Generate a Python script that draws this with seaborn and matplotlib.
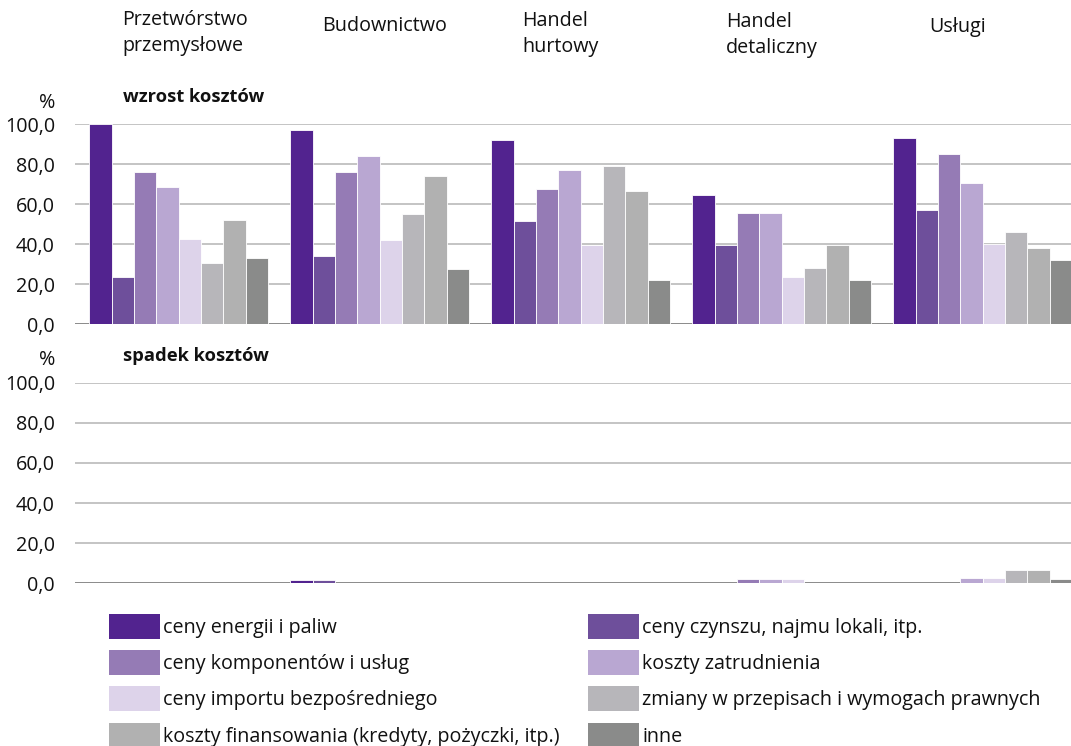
"""Przyczyny wzrostu i spadku kosztow wg sekcji - odtworzenie wykresu."""

import matplotlib

matplotlib.use("Agg")
import matplotlib.pyplot as plt
import pandas as pd
import seaborn as sns
from matplotlib.patches import Patch
from matplotlib.ticker import FuncFormatter

sectors = ["Przetwórstwo\nprzemysłowe", "Budownictwo", "Handel\nhurtowy", "Handel\ndetaliczny", "Usługi"]
causes = [
    "ceny energii i paliw",
    "ceny czynszu, najmu lokali, itp.",
    "ceny komponentów i usług",
    "koszty zatrudnienia",
    "ceny importu bezpośredniego",
    "zmiany w przepisach i wymogach prawnych",
    "koszty finansowania (kredyty, pożyczki, itp.)",
    "inne",
]
colors = ["#52238f", "#6e4f9b", "#957bb5", "#b9a7d2", "#ddd3ea", "#b7b6ba", "#b1b1b1", "#8a8b8a"]

# wzrost kosztow, % (rows = sectors, columns = causes)
increase = [
    [99.8, 23.5, 75.8, 68.5, 42.5, 30.7, 51.9, 32.9],
    [97.0, 33.8, 76.0, 84.0, 42.2, 55.2, 74.0, 27.5],
    [92.0, 51.5, 67.3, 77.0, 39.7, 79.0, 66.3, 21.8],
    [64.7, 39.7, 55.3, 55.3, 23.7, 28.2, 39.3, 22.0],
    [93.2, 57.2, 85.0, 70.7, 40.0, 46.2, 37.8, 32.2],
]
# spadek kosztow, %
decrease = [
    [0.0, 0.0, 0.0, 0.0, 0.0, 0.0, 0.0, 0.0],
    [1.6, 1.6, 0.0, 0.0, 0.0, 0.0, 0.0, 0.0],
    [0.0, 0.0, 0.0, 0.0, 0.0, 0.0, 0.0, 0.0],
    [0.0, 0.0, 2.2, 1.8, 1.8, 0.0, 0.0, 0.0],
    [0.0, 0.0, 0.0, 2.3, 2.3, 6.3, 6.3, 2.2],
]
y_ticks = [0, 20, 40, 60, 80, 100]


def to_long(values):
    rows = []
    for s, row in zip(sectors, values):
        for c, v in zip(causes, row):
            rows.append({"sector": s, "cause": c, "value": v})
    return pd.DataFrame(rows)


sns.set_theme(style="white")
plt.rcParams["font.family"] = ["Open Sans", "DejaVu Sans"]
FS = 14.2
FS_TITLE = 13.2
TXT = "#111111"

fig = plt.figure(figsize=(10.71, 7.46), dpi=100)
W, H = 1071, 746


def px_axes(left, top, right, bottom):
    return fig.add_axes([left / W, 1 - bottom / H, (right - left) / W, (bottom - top) / H])


ax_top = px_axes(75, 124, 1071, 324)
ax_bot = px_axes(75, 383, 1071, 583)

fmt = FuncFormatter(lambda v, _: f"{v:.1f}".replace(".", ","))

for ax, values in [(ax_top, increase), (ax_bot, decrease)]:
    df = to_long(values)
    sns.barplot(
        data=df, x="sector", y="value", hue="cause", order=sectors, hue_order=causes,
        palette=colors, saturation=1, width=8 / 9, edgecolor="white", linewidth=0.6,
        legend=False, ax=ax, zorder=3,
    )
    ax.set_ylim(0, 100)
    ax.set_xlim(-0.515, 4.44)
    ax.set_yticks(y_ticks)
    ax.yaxis.set_major_formatter(fmt)
    ax.set_xticks([])
    ax.set_xlabel("")
    ax.set_ylabel("")
    ax.tick_params(axis="y", length=0, pad=14.4, labelsize=FS, labelcolor=TXT)
    ax.yaxis.grid(True, color="#b4b4b4", linewidth=1.1, zorder=0)
    ax.axhline(0, color="#888888", linewidth=1.3, zorder=2)
    ax.set_axisbelow(True)
    sns.despine(ax=ax, left=True, bottom=True)

# naglowki sekcji
header_pos = [(122, 33), (322, 26), (522, 34), (726, 35), (929, 27)]
for name, (x, y) in zip(sectors, header_pos):
    fig.text(x / W, 1 - y / H, name, ha="left", va="center", fontsize=FS,
             linespacing=1.35, color=TXT)

fig.text(55 / W, 1 - 103 / H, "%", ha="right", va="center", fontsize=FS, color=TXT)
fig.text(123 / W, 1 - 97 / H, "wzrost kosztów", ha="left", va="center", fontsize=FS_TITLE,
         fontweight="bold", color=TXT)
fig.text(55 / W, 1 - 360 / H, "%", ha="right", va="center", fontsize=FS, color=TXT)
fig.text(123 / W, 1 - 356 / H, "spadek kosztów", ha="left", va="center", fontsize=FS_TITLE,
         fontweight="bold", color=TXT)

# legenda w dwoch kolumnach
fs_px = FS * 100 / 72
patch_h = 25 / fs_px
handles = [Patch(facecolor=c, edgecolor="none", label=l) for c, l in zip(colors, causes)]
leg_kw = dict(
    frameon=False, fontsize=FS, loc="upper left", borderpad=0, borderaxespad=0,
    handlelength=51 / fs_px, handleheight=(patch_h - 0.245) / 0.65, handletextpad=3 / fs_px,
    labelspacing=0.57,
)
leg1 = fig.legend(handles=handles[0::2], bbox_to_anchor=(109 / W, 1 - 614 / H), **leg_kw)
leg2 = fig.legend(handles=handles[1::2], bbox_to_anchor=(588 / W, 1 - 614 / H), **leg_kw)
for leg in (leg1, leg2):
    for t in leg.get_texts():
        t.set_color(TXT)

fig.savefig("out.png", dpi=100)
